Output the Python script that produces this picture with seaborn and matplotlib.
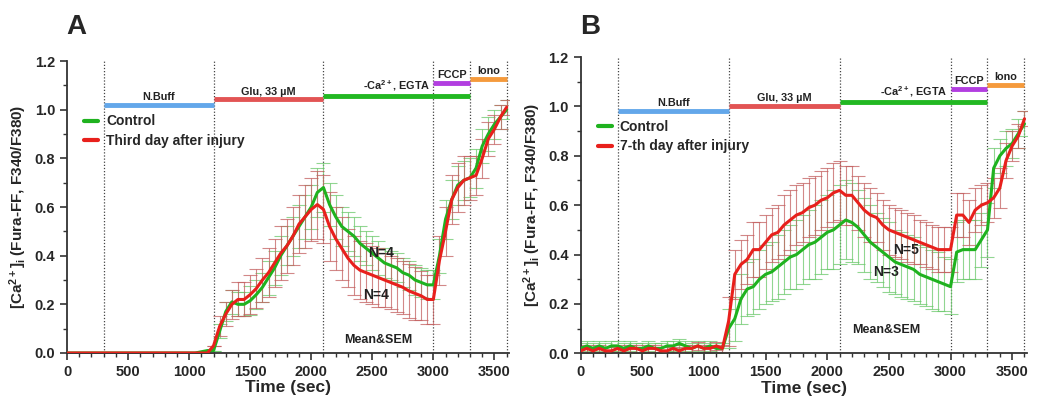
import numpy as np
import pandas as pd
import matplotlib
matplotlib.use("Agg")
import matplotlib.pyplot as plt
import seaborn as sns
from matplotlib.ticker import MultipleLocator

# time axis (sec), sampled every 50 s
time = list(range(0, 3650, 50))

# Panel A: control vs third day after injury
a_control = [0.0] * 22 + [0.005, 0.01, 0.01,
             0.09, 0.17, 0.21, 0.20, 0.20, 0.215, 0.24, 0.27, 0.31, 0.35, 0.40,
             0.44, 0.48, 0.52, 0.56, 0.60, 0.66, 0.68, 0.61, 0.56, 0.52, 0.50,
             0.48, 0.45, 0.43, 0.41, 0.39, 0.37, 0.36, 0.35, 0.33, 0.32, 0.30,
             0.29, 0.28, 0.28, 0.40, 0.55, 0.63, 0.69, 0.71, 0.72, 0.76, 0.85,
             0.90, 0.94, 0.97, 1.00]
a_control_sem = [0.0] * 25 + [
    0.03, 0.04, 0.05, 0.05, 0.05, 0.06, 0.06, 0.06, 0.07, 0.07, 0.08,
    0.08, 0.08, 0.09, 0.09, 0.09, 0.10, 0.10, 0.09, 0.09, 0.08, 0.08,
    0.08, 0.07, 0.07, 0.07, 0.07, 0.06, 0.06, 0.06, 0.06, 0.06, 0.06,
    0.06, 0.06, 0.06, 0.07, 0.08, 0.08, 0.08, 0.08, 0.08, 0.08, 0.07,
    0.07, 0.06, 0.05, 0.04]
a_injury = [0.0] * 24 + [0.03,
            0.11, 0.16, 0.20, 0.22, 0.22, 0.24, 0.265, 0.30, 0.33, 0.37, 0.41,
            0.44, 0.48, 0.53, 0.56, 0.59, 0.61, 0.59, 0.52, 0.47, 0.43, 0.39,
            0.36, 0.34, 0.33, 0.32, 0.31, 0.30, 0.29, 0.28, 0.27, 0.255, 0.245,
            0.235, 0.22, 0.22, 0.38, 0.50, 0.63, 0.68, 0.71, 0.72, 0.73, 0.80,
            0.88, 0.92, 0.97, 1.01]
a_injury_sem = [0.0] * 25 + [
    0.04, 0.05, 0.06, 0.07, 0.07, 0.08, 0.08, 0.09, 0.10, 0.10, 0.11,
    0.11, 0.12, 0.12, 0.13, 0.13, 0.14, 0.14, 0.14, 0.13, 0.13, 0.12,
    0.12, 0.12, 0.12, 0.12, 0.12, 0.11, 0.11, 0.11, 0.11, 0.11, 0.11,
    0.10, 0.10, 0.10, 0.10, 0.10, 0.10, 0.10, 0.10, 0.09, 0.08, 0.08,
    0.07, 0.06, 0.05, 0.03]

# Panel B: control vs 7-th day after injury
b_control = [0.02, 0.03, 0.02, 0.03, 0.02, 0.03, 0.03, 0.02, 0.03, 0.02, 0.02,
             0.03, 0.02, 0.02, 0.03, 0.03, 0.04, 0.03, 0.02, 0.03, 0.02, 0.03,
             0.02, 0.02,
             0.10, 0.14, 0.22, 0.26, 0.27, 0.30, 0.32, 0.33, 0.35, 0.37, 0.39,
             0.40, 0.42, 0.44, 0.45, 0.47, 0.49, 0.50, 0.52, 0.54, 0.53, 0.51,
             0.48, 0.45, 0.43, 0.41, 0.39, 0.37, 0.36, 0.35, 0.34, 0.32, 0.31,
             0.30, 0.29, 0.28, 0.27, 0.41, 0.42, 0.42, 0.42, 0.46, 0.50, 0.75,
             0.80, 0.83, 0.85, 0.89, 0.93]
b_control_sem = [0.02] * 24 + [
    0.08, 0.09, 0.10, 0.11, 0.11, 0.12, 0.12, 0.12, 0.13, 0.13, 0.13,
    0.14, 0.14, 0.14, 0.15, 0.15, 0.15, 0.16, 0.16, 0.16, 0.16, 0.15,
    0.15, 0.15, 0.14, 0.14, 0.14, 0.13, 0.13, 0.13, 0.13, 0.12, 0.12,
    0.12, 0.12, 0.11, 0.11, 0.12, 0.12, 0.12, 0.12, 0.11, 0.11, 0.08,
    0.07, 0.07, 0.06, 0.06, 0.05]
b_injury = [0.01, 0.02, 0.01, 0.02, 0.01, 0.01, 0.02, 0.01, 0.02, 0.02, 0.01,
            0.02, 0.02, 0.01, 0.01, 0.02, 0.01, 0.02, 0.02, 0.03, 0.02, 0.02,
            0.03, 0.02,
            0.13, 0.32, 0.36, 0.38, 0.42, 0.42, 0.45, 0.48, 0.49, 0.52, 0.54,
            0.56, 0.57, 0.59, 0.60, 0.62, 0.63, 0.65, 0.66, 0.64, 0.64, 0.61,
            0.58, 0.56, 0.55, 0.52, 0.50, 0.49, 0.48, 0.47, 0.46, 0.45, 0.44,
            0.43, 0.42, 0.42, 0.42, 0.56, 0.56, 0.53, 0.58, 0.60, 0.61, 0.63,
            0.67, 0.78, 0.84, 0.88, 0.95]
b_injury_sem = [0.015] * 24 + [
    0.10, 0.10, 0.10, 0.10, 0.11, 0.11, 0.11, 0.11, 0.11, 0.12, 0.12,
    0.12, 0.12, 0.12, 0.12, 0.12, 0.12, 0.12, 0.12, 0.12, 0.12, 0.11,
    0.11, 0.11, 0.10, 0.10, 0.10, 0.10, 0.10, 0.10, 0.10, 0.09, 0.09,
    0.09, 0.09, 0.09, 0.09, 0.09, 0.09, 0.09, 0.09, 0.08, 0.08, 0.08,
    0.08, 0.07, 0.06, 0.05, 0.03]

# treatment periods
periods = ["N.Buff", "Glu, 33 \u00b5M", "-Ca$^{2+}$, EGTA", "FCCP", "Iono"]
period_start = [300, 1200, 2100, 3000, 3300]
period_end = [1200, 2100, 3300, 3300, 3600]
period_colors = ["#63a7ea", "#e25454", "#22b822", "#b23ee0", "#f59a3c"]
bar_y_a = [1.021, 1.042, 1.055, 1.11, 1.125]
bar_y_b = [0.983, 1.003, 1.017, 1.071, 1.086]
boundaries = [300, 1200, 2100, 3000, 3300, 3600]

GREEN = "#1fb21f"
RED = "#e8201c"

sns.set_theme(style="ticks")
plt.rcParams["font.family"] = ["Liberation Sans", "DejaVu Sans"]
plt.rcParams["font.weight"] = "bold"
plt.rcParams["mathtext.fontset"] = "custom"
plt.rcParams["mathtext.rm"] = "Liberation Sans:bold"
plt.rcParams["mathtext.it"] = "Liberation Sans:bold"
plt.rcParams["mathtext.bf"] = "Liberation Sans:bold"
plt.rcParams["mathtext.default"] = "bf"

fig = plt.figure(figsize=(10.41, 3.99), dpi=100)
ax_a = fig.add_axes([0.0644, 0.1153, 0.4246, 0.7318])
ax_b = fig.add_axes([0.5578, 0.1145, 0.4287, 0.7425])


def draw_panel(ax, ctrl, ctrl_sem, inj, inj_sem, inj_label, bar_y, leg_y):
    df = pd.DataFrame({
        "time": time * 2,
        "ratio": ctrl + inj,
        "group": ["Control"] * len(time) + [inj_label] * len(time),
    })
    ax.errorbar(time, ctrl, yerr=ctrl_sem, fmt="none", ecolor="#6cc96c",
                elinewidth=0.8, capsize=5, capthick=0.8, alpha=0.75, zorder=2)
    ax.errorbar(time, inj, yerr=inj_sem, fmt="none", ecolor="#c46060",
                elinewidth=0.8, capsize=5, capthick=0.8, alpha=0.75, zorder=2)
    sns.lineplot(data=df, x="time", y="ratio", hue="group",
                 palette=[GREEN, RED], linewidth=2.2, ax=ax, zorder=3)

    for b in boundaries:
        ax.plot([b, b], [0, 1.2], color="#444444", linestyle=(0, (1, 1.5)),
                linewidth=0.9, zorder=1)
    for name, s, e, c, y in zip(periods, period_start, period_end,
                                period_colors, bar_y):
        ax.plot([s, e], [y, y], color=c, linewidth=3.5, solid_capstyle="butt",
                zorder=4)
        ax.text((s + e) / 2, y + 0.012, name, ha="center", va="bottom",
                fontsize=7.8, fontweight="bold", color="#222222")

    ax.set_xlim(0, 3620)
    ax.set_ylim(0, 1.2)
    ax.xaxis.set_major_locator(MultipleLocator(500))
    ax.xaxis.set_minor_locator(MultipleLocator(100))
    ax.yaxis.set_major_locator(MultipleLocator(0.2))
    ax.yaxis.set_minor_locator(MultipleLocator(0.1))
    ax.yaxis.set_major_formatter(matplotlib.ticker.FormatStrFormatter("%.1f"))
    ax.tick_params(axis="both", which="major", length=5, width=1.2,
                   labelsize=10.5, direction="out", color="#333333")
    ax.tick_params(axis="both", which="minor", length=3, width=1,
                   color="#333333")
    for t in ax.get_xticklabels() + ax.get_yticklabels():
        t.set_fontweight("bold")
    sns.despine(ax=ax)
    for sp in ("left", "bottom"):
        ax.spines[sp].set_linewidth(1.3)
        ax.spines[sp].set_color("#333333")
    ax.set_xlabel("Time (sec)", fontsize=12.5, fontweight="bold", labelpad=1)
    ax.set_ylabel("[Ca$^{2+}$]$_i$ (Fura-FF, F340/F380)", fontsize=11,
                  fontweight="bold", labelpad=4)
    leg = ax.legend(loc="upper left", bbox_to_anchor=(0.01, leg_y),
                    frameon=False, handlelength=1.0, handletextpad=0.6,
                    labelspacing=0.4, prop={"size": 10, "weight": "bold"})
    for line in leg.get_lines():
        line.set_linewidth(3)


draw_panel(ax_a, a_control, a_control_sem, a_injury, a_injury_sem,
           "Third day after injury", bar_y_a, 0.86)
draw_panel(ax_b, b_control, b_control_sem, b_injury, b_injury_sem,
           "7-th day after injury", bar_y_b, 0.83)

ax_a.text(2573, 0.41, "N=4", ha="center", va="center", fontsize=10,
          fontweight="bold", color="#222222")
ax_a.text(2530, 0.24, "N=4", ha="center", va="center", fontsize=10,
          fontweight="bold", color="#222222")
ax_a.text(2550, 0.053, "Mean&SEM", ha="center", va="center", fontsize=9,
          fontweight="bold", color="#222222")
ax_b.text(2636, 0.42, "N=5", ha="center", va="center", fontsize=10,
          fontweight="bold", color="#222222")
ax_b.text(2475, 0.33, "N=3", ha="center", va="center", fontsize=10,
          fontweight="bold", color="#222222")
ax_b.text(2475, 0.095, "Mean&SEM", ha="center", va="center", fontsize=9,
          fontweight="bold", color="#222222")

fig.text(76 / 1041, 1 - 27 / 399, "A", fontsize=20, fontweight="bold",
         ha="center", va="center")
fig.text(590 / 1041, 1 - 27 / 399, "B", fontsize=20, fontweight="bold",
         ha="center", va="center")

fig.savefig("out.png", dpi=100)
